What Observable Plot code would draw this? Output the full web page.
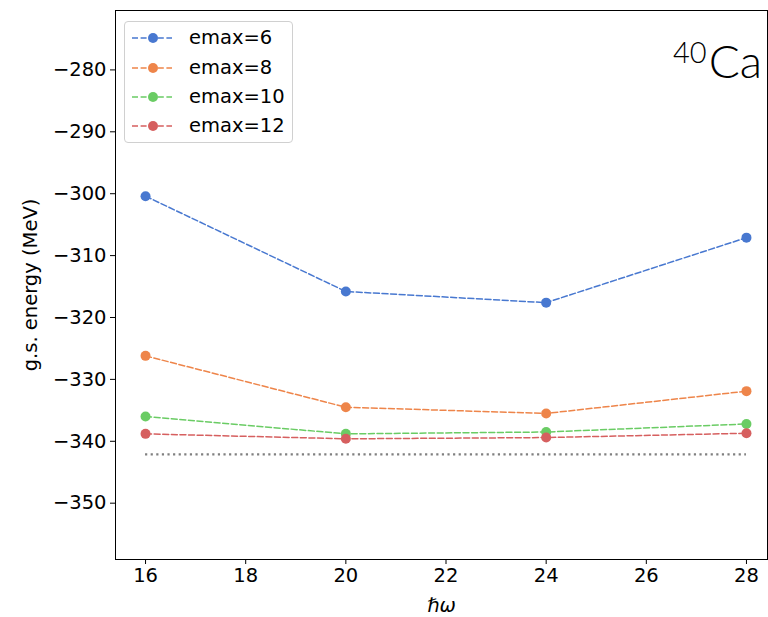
<!DOCTYPE html>
<html>
<head>
<meta charset="utf-8">
<script src="https://cdn.jsdelivr.net/npm/d3@7"></script>
<script src="https://cdn.jsdelivr.net/npm/@observablehq/plot@0.6"></script>
<style>
  html, body { margin: 0; padding: 0; background: white; }
  #wrap { position: relative; width: 768px; height: 617px; font-family: "DejaVu Sans", sans-serif; }
  #legend { position: absolute; left: 124px; top: 21px; width: 169px; height: 122px;
    border: 1px solid #d0d0d0; border-radius: 4px; background: rgba(255,255,255,0.85); box-sizing: border-box; }
  .entry { position: absolute; left: 0; height: 20px; display: flex; align-items: center; }
  .entry span { font-size: 19.5px; color: #000; white-space: nowrap; }
  #title { position: absolute; left: 0; top: 0; pointer-events: none; }
  svg [aria-label="x-axis label"] text { font-style: italic; }
</style>
</head>
<body>
<div id="wrap"></div>
<script>
// ---- data ----
const hw = [16, 20, 24, 28];
const emax6  = [-300.4, -315.8, -317.6, -307.1];
const emax8  = [-326.2, -334.5, -335.5, -331.9];
const emax10 = [-336.0, -338.8, -338.5, -337.2];
const emax12 = [-338.8, -339.6, -339.4, -338.7];
const seriesNames = ["emax=6", "emax=8", "emax=10", "emax=12"];
const seriesColors = ["#4878d0", "#ee854a", "#6acc64", "#d65f5f"];
const referenceEnergy = -342.1;
const xTicks = [16, 18, 20, 22, 24, 26, 28];
const yTicks = [-350, -340, -330, -320, -310, -300, -290, -280];

const allSeries = [emax6, emax8, emax10, emax12];
const data = [];
allSeries.forEach((vals, i) => vals.forEach((v, j) => data.push({hw: hw[j], E: v, series: seriesNames[i]})));

const chart = Plot.plot({
  width: 768,
  height: 617,
  marginLeft: 115,
  marginRight: 1,
  marginTop: 10,
  marginBottom: 58,
  style: { fontFamily: "DejaVu Sans, sans-serif", fontSize: "19.5px", color: "#000", background: "white", overflow: "visible" },
  x: { domain: [15.4, 28.42], ticks: xTicks },
  y: { domain: [-359.1, -270.4], ticks: yTicks },
  color: { domain: seriesNames, range: seriesColors },
  marks: [
    Plot.ruleY([referenceEnergy], { x1: hw[0], x2: hw[hw.length - 1], stroke: "#808080", strokeWidth: 2.2, strokeDasharray: "2.2,3.4" }),
    Plot.line(data, { x: "hw", y: "E", z: "series", stroke: "series", strokeWidth: 1.5, strokeDasharray: "6,2.6" }),
    Plot.dot(data, { x: "hw", y: "E", fill: "series", r: 5, stroke: "none" }),
    Plot.frame({ stroke: "black", strokeWidth: 1 }),
    Plot.axisX({ ticks: xTicks, tickSize: 5, tickPadding: 4, label: "ℏω", labelAnchor: "center", labelArrow: "none", labelOffset: 52, stroke: "black" }),
    Plot.axisY({ ticks: yTicks, tickSize: 5, tickPadding: 4, label: "g.s. energy (MeV)", labelAnchor: "center", labelArrow: "none", labelOffset: 92, stroke: "black" })
  ]
});

const wrap = document.getElementById("wrap");
wrap.appendChild(chart);

// legend
const legend = document.createElement("div");
legend.id = "legend";
const rowTops = [15.7, 45.5, 74.5, 103.5];
seriesNames.forEach((name, i) => {
  const row = document.createElement("div");
  row.className = "entry";
  row.style.top = (rowTops[i] - 10) + "px";
  row.innerHTML = `<svg width="46" height="20" style="margin-left:7px"><line x1="0" x2="40" y1="10" y2="10" stroke="${seriesColors[i]}" stroke-width="1.5" stroke-dasharray="6,2.6"/><circle cx="21" cy="10" r="5" fill="${seriesColors[i]}"/></svg><span style="margin-left:11px">${name}</span>`;
  legend.appendChild(row);
});
wrap.appendChild(legend);

// title (superscript mass number + element)
const ns = "http://www.w3.org/2000/svg";
const tsvg = document.createElementNS(ns, "svg");
tsvg.setAttribute("id", "title");
tsvg.setAttribute("width", "768");
tsvg.setAttribute("height", "100");
tsvg.innerHTML = `<text x="762" y="78" text-anchor="end" font-family="Lato, sans-serif" font-weight="300" fill="#000"><tspan font-size="29" dy="-15">40</tspan><tspan font-size="46" dy="15" dx="2">Ca</tspan></text>`;
wrap.appendChild(tsvg);
</script>
</body>
</html>
